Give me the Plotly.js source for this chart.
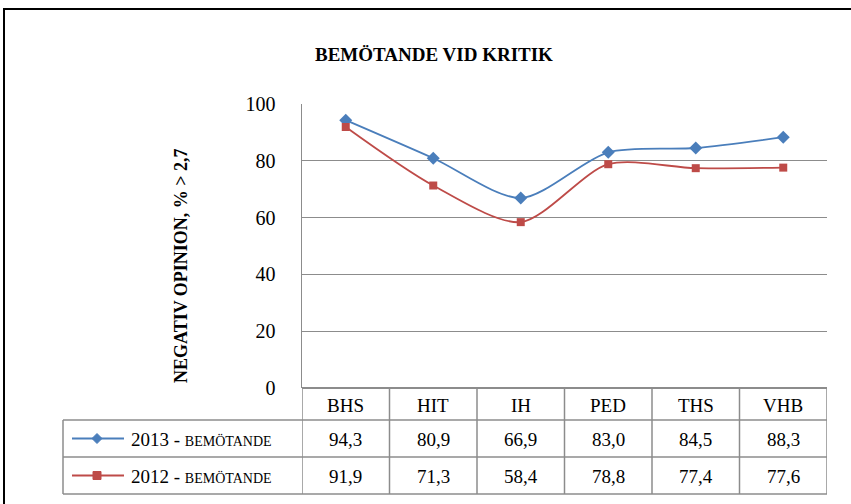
<!DOCTYPE html>
<html>
<head>
<meta charset="utf-8">
<script src="https://cdn.plot.ly/plotly-3.0.1.min.js"></script>
<style>html,body{margin:0;padding:0;background:#fff;}#chart{width:851px;height:504px;}</style>
</head>
<body>
<div id="chart"></div>
<script>
const categories = ["BHS", "HIT", "IH", "PED", "THS", "VHB"];
const values2013 = [94.3, 80.9, 66.9, 83.0, 84.5, 88.3];
const values2012 = [91.9, 71.3, 58.4, 78.8, 77.4, 77.6];
const seriesNames = ["2013 - ", "2012 - "];
const seriesSuffix = "BEMÖTANDE";
const yTicks = [0, 20, 40, 60, 80, 100];
const chartTitle = "BEMÖTANDE VID KRITIK";
const yTitle = "NEGATIV OPINION, % > 2,7";

const W = 851, H = 504, L = 302, R = 24, T = 104, B = 116;
const PW = W - L - R, PH = H - T - B;
const px = x => (x - L) / PW;
const py = y => (H - B - y) / PH;

const blue = "#4A7EBB", red = "#BE4B48", grid = "#8c8c8c";
const FONT = "Liberation Serif, DejaVu Serif, serif";
const xs = categories.map((c, i) => i);

const traces = [
  {x: xs, y: values2013, mode: "lines+markers", line: {color: blue, width: 1.8, shape: "spline", smoothing: 0.8},
   marker: {symbol: "diamond", size: 10, color: blue}, showlegend: false, hoverinfo: "skip"},
  {x: xs, y: values2012, mode: "lines+markers", line: {color: red, width: 1.8, shape: "spline", smoothing: 0.8},
   marker: {symbol: "square", size: 8, color: red}, showlegend: false, hoverinfo: "skip"}
];

const shapes = [];
const annotations = [];
const rowTops = [388, 420, 457, 494];
const tl = {color: grid, width: 1.5};

// outer border
shapes.push({type: "rect", xref: "paper", yref: "paper", x0: px(4), x1: px(860), y0: py(9), y1: py(515), line: {color: "#000", width: 2}});

// table horizontal lines
for (let k = 1; k <= 3; k++) {
  shapes.push({type: "line", xref: "paper", yref: "paper", x0: px(63), x1: 1, y0: py(rowTops[k]), y1: py(rowTops[k]), line: tl});
}
// legend column left edge
shapes.push({type: "line", xref: "paper", yref: "paper", x0: px(63), x1: px(63), y0: py(rowTops[1]), y1: py(rowTops[3]), line: tl});
// column boundaries
for (let i = 0; i <= categories.length; i++) {
  shapes.push({type: "line", xref: "x", yref: "paper", x0: i - 0.5, x1: i - 0.5, y0: py(rowTops[0]), y1: py(rowTops[3]), line: tl});
}

const fmt = v => v.toFixed(1).replace(".", ",");
const cellFont = {family: FONT, size: 19, color: "#000"};
const rowCenter = k => py((rowTops[k] + rowTops[k + 1]) / 2 + 1);
const cell = (x, y, text, xref) => ({x: x, y: y, xref: xref, yref: "paper", text: text, showarrow: false,
  xanchor: "center", yanchor: "middle", font: cellFont});
categories.forEach((c, i) => {
  annotations.push(cell(i, rowCenter(0), c, "x"));
  annotations.push(cell(i, rowCenter(1), fmt(values2013[i]), "x"));
  annotations.push(cell(i, rowCenter(2), fmt(values2012[i]), "x"));
});

// legend keys in table
const keyColors = [blue, red];
[1, 2].forEach((k, j) => {
  const yc = (rowTops[k] + rowTops[k + 1]) / 2;
  shapes.push({type: "line", xref: "paper", yref: "paper", x0: px(72), x1: px(124), y0: py(yc), y1: py(yc), line: {color: keyColors[j], width: 1.8}});
  if (j === 0) {
    const d = 5;
    shapes.push({type: "path", xref: "paper", yref: "paper",
      path: `M ${px(97)} ${py(yc - d)} L ${px(97 + d)} ${py(yc)} L ${px(97)} ${py(yc + d)} L ${px(97 - d)} ${py(yc)} Z`,
      fillcolor: blue, line: {color: blue, width: 1}});
  } else {
    const d = 4;
    shapes.push({type: "rect", xref: "paper", yref: "paper", x0: px(97 - d), x1: px(97 + d), y0: py(yc + d), y1: py(yc - d),
      fillcolor: red, line: {color: red, width: 1}});
  }
  annotations.push({x: px(129), y: py(yc + 1), xref: "paper", yref: "paper", xanchor: "left", yanchor: "middle", showarrow: false,
    text: seriesNames[j] + "<span style='font-size:14px'>" + seriesSuffix + "</span>", font: cellFont});
});

// y-axis title
annotations.push({x: px(181), y: py(266), xref: "paper", yref: "paper", xanchor: "center", yanchor: "middle",
  text: "<b>" + yTitle + "</b>", textangle: -90, showarrow: false, font: {family: FONT, size: 18, color: "#000"}});
// chart title
annotations.push({x: px(434), y: py(55), xref: "paper", yref: "paper", xanchor: "center", yanchor: "middle",
  text: "<b>" + chartTitle + "</b>", showarrow: false, font: {family: FONT, size: 19, color: "#000"}});

const layout = {
  width: W, height: H,
  margin: {l: L, r: R, t: T, b: B, pad: 0},
  paper_bgcolor: "#fff", plot_bgcolor: "#fff",
  xaxis: {range: [-0.5, categories.length - 0.5], showgrid: false, zeroline: false, showticklabels: false, showline: false, fixedrange: true},
  yaxis: {range: [0, 100], tickvals: yTicks, ticktext: yTicks.map(String), showgrid: true, gridcolor: grid, gridwidth: 1,
    zeroline: true, zerolinecolor: grid, zerolinewidth: 1.5, showline: true, linecolor: grid, linewidth: 1.5,
    ticks: "", ticklabelstandoff: 21, tickfont: {family: FONT, size: 20, color: "#000"}},
  shapes: shapes,
  annotations: annotations,
  showlegend: false
};

Plotly.newPlot("chart", traces, layout, {staticPlot: true, displayModeBar: false});
</script>
</body>
</html>
